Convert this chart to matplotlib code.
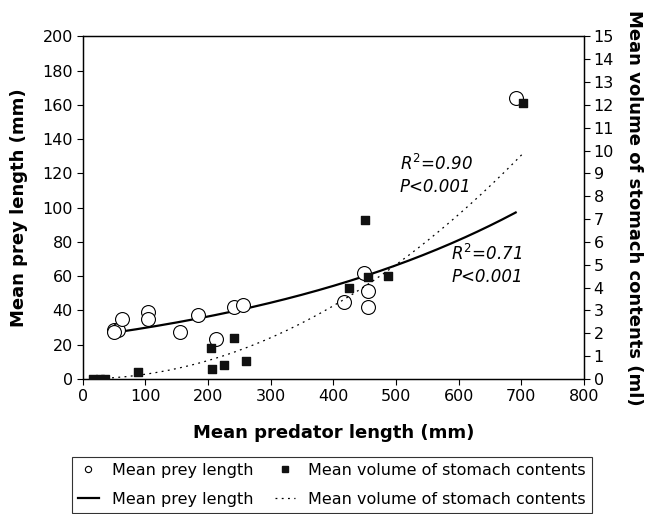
import numpy as np
import matplotlib
matplotlib.use("Agg")
import matplotlib.pyplot as plt
from matplotlib.lines import Line2D

plt.rcParams["font.family"] = ["DejaVu Sans"]
plt.rcParams["mathtext.fontset"] = "dejavusans"

# ----------- data -----------
prey_x = [50, 57, 50, 62, 105, 104, 156, 184, 212, 241, 256, 417, 449, 455, 456, 691]
prey_y = [28.7, 28.7, 27.1, 34.9, 39.0, 35.1, 27.3, 37.0, 23.4, 41.9, 43.3, 44.7, 62.0, 51.5, 42.1, 164]

vol_x = [17, 27, 36, 88, 205, 206, 225, 241, 260, 425, 450, 455, 488, 703]
vol_y = [0.0, 0.0, 0.0, 0.28, 1.37, 0.43, 0.61, 1.77, 0.76, 4.0, 6.95, 4.45, 4.5, 12.1]

# trend lines (exponential for prey length, power for volume)
prey_fit = (24.4, 0.0020)   # y = a * exp(b x)
vol_fit = (2.0e-5, 2.0)     # y = a * x^b

# ----------- figure -----------
fig = plt.figure(figsize=(6.46, 5.14), dpi=100)
ax = fig.add_axes([0.128, 0.263, 0.776, 0.666])
ax2 = ax.twinx()

ax.scatter(prey_x, prey_y, s=100, facecolors="white", edgecolors="black",
           linewidths=0.8, zorder=3)
ax2.scatter(vol_x, vol_y, s=38, marker="s", color="#111111", zorder=4)

xs = np.linspace(min(prey_x), max(prey_x), 200)
ax.plot(xs, prey_fit[0] * np.exp(prey_fit[1] * xs), color="black", lw=1.6, zorder=2)
xv = np.linspace(min(vol_x), max(vol_x), 200)
ax2.plot(xv, vol_fit[0] * xv ** vol_fit[1], color="black", lw=0.9,
         ls=(0, (1.5, 3.5)), zorder=2)

ax.set_xlim(0, 800)
ax.set_ylim(0, 200)
ax2.set_ylim(0, 15)
ax.set_xticks(np.arange(0, 801, 100))
ax.set_yticks(np.arange(0, 201, 20))
ax2.set_yticks(np.arange(0, 16, 1))

for a in (ax, ax2):
    a.tick_params(direction="out", length=4, width=0.8, labelsize=11.5, pad=3)
    for s in a.spines.values():
        s.set_linewidth(0.9)

ax.set_xlabel("Mean predator length (mm)", fontsize=13, fontweight="bold", labelpad=15)
ax.set_ylabel("Mean prey length (mm)", fontsize=13, fontweight="bold", labelpad=10.5)
ax2.set_ylabel("Mean volume of stomach contents (ml)", fontsize=13,
               fontweight="bold", rotation=-90, labelpad=21)

ax.text(506, 122.2, "$R^{2}$=0.90", fontsize=12, style="italic", va="baseline")
ax.text(506, 109.2, "P<0.001", fontsize=12, style="italic", va="baseline")
ax.text(588, 69.3, "$R^{2}$=0.71", fontsize=12, style="italic", va="baseline")
ax.text(588, 56.7, "P<0.001", fontsize=12, style="italic", va="baseline")

handles = [
    Line2D([], [], ls="none", marker="o", markersize=4.5, mfc="white", mec="black", mew=0.8),
    Line2D([], [], color="black", lw=1.6),
    Line2D([], [], ls="none", marker="s", markersize=5, color="#111111"),
    Line2D([], [], color="black", lw=0.9, ls=(0, (1.5, 3.5))),
]
labels = ["Mean prey length", "Mean prey length",
          "Mean volume of stomach contents", "Mean volume of stomach contents"]
leg = fig.legend(handles, labels, loc="lower left", ncol=2, fontsize=11.5,
                 bbox_to_anchor=(0.111, 0.002),
                 frameon=True, fancybox=False, edgecolor="black",
                 handlelength=1.3, handletextpad=0.8, columnspacing=1.35,
                 borderpad=0.4, labelspacing=0.85, borderaxespad=0)
leg.get_frame().set_linewidth(0.8)

fig.savefig("out.png", dpi=100)
